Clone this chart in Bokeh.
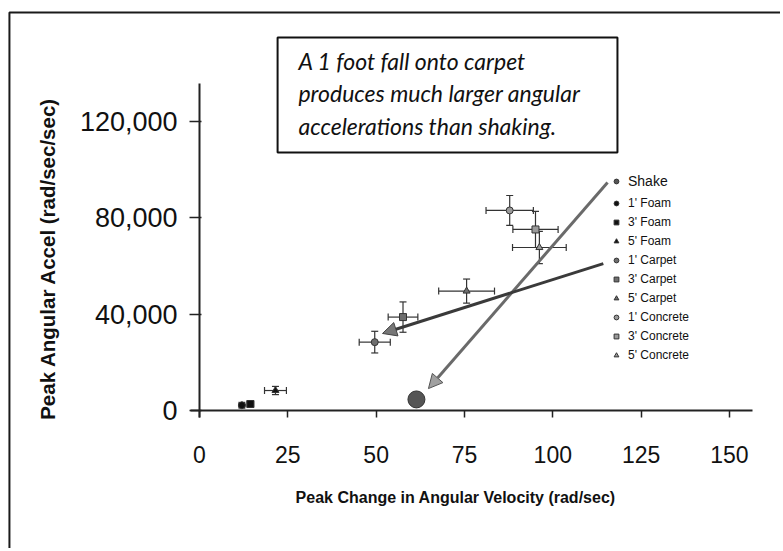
import math
from bokeh.plotting import figure
from bokeh.models import (ColumnDataSource, Whisker, TeeHead, Arrow, NormalHead,
                          BoxAnnotation, Label, Legend, LegendItem, FixedTicker,
                          NumeralTickFormatter, Range1d)
from bokeh.embed import file_html
from bokeh.resources import INLINE

# ---------------- data ----------------
series = ["Shake", "1' Foam", "3' Foam", "5' Foam", "1' Carpet", "3' Carpet",
          "5' Carpet", "1' Concrete", "3' Concrete", "5' Concrete"]
vel = [61.4, 12.0, 14.4, 21.5, 49.6, 57.6, 75.6, 87.8, 95.1, 96.2]          # rad/sec
vel_err = [0, 0.8, 0.9, 3.1, 4.4, 4.2, 7.9, 6.7, 6.4, 7.6]
acc = [4600, 2200, 2700, 8300, 28400, 38800, 49600, 83100, 75200, 67700]     # rad/sec/sec
acc_err = [0, 300, 400, 1700, 4500, 6300, 5000, 6200, 7500, 6700]
markers = ["circle", "circle", "square", "triangle", "circle", "square",
           "triangle", "circle", "square", "triangle"]
colors = ["#555555", "#111111", "#111111", "#111111", "#6e6e6e", "#6e6e6e",
          "#6e6e6e", "#9a9a9a", "#9a9a9a", "#9a9a9a"]

x_ticks = [0, 25, 50, 75, 100, 125, 150]
y_ticks = [0, 40000, 80000, 120000]

note_lines = ["A 1 foot fall onto carpet",
              "produces much larger angular",
              "accelerations than shaking."]

# annotation geometry (data coords)
note_box = dict(left=22.1, right=118.3, top=154900, bottom=107200)
note_x = 28.0
note_y = [145350, 131700, 118000]
arrow_shake = (115.5, 94700, 64.8, 9100)
arrow_carpet = (114.3, 61000, 51.8, 32000)
page_border = dict(left=-53.8, top=165300, right=1000, bottom=-1000000)
x_title_pos = (72.5, -36100)
y_title_pos = (-43.0, 63100)

# ---------------- figure ----------------
W, H = 780, 548
p = figure(width=W, height=H, output_backend="svg", toolbar_location=None,
           x_range=Range1d(-56.33, 164.45), y_range=Range1d(-57320, 170300),
           min_border=0, min_border_left=0, min_border_right=0,
           min_border_top=0, min_border_bottom=0)
p.outline_line_color = None
p.grid.visible = False
p.background_fill_color = "white"
p.border_fill_color = "white"

for ax in (p.xaxis[0], p.yaxis[0]):
    ax.fixed_location = 0
    ax.axis_line_color = "#222222"
    ax.axis_line_width = 2
    ax.major_tick_line_color = "#222222"
    ax.major_tick_line_width = 1.5
    ax.minor_tick_line_color = None
    ax.major_label_text_font = "Liberation Sans"
    ax.major_label_text_color = "#111111"

p.xaxis.ticker = FixedTicker(ticks=x_ticks)
p.yaxis.ticker = FixedTicker(ticks=y_ticks)
p.yaxis.formatter = NumeralTickFormatter(format="0,0")
p.xaxis.bounds = (-2.5, 156.5)
p.yaxis.bounds = (-3000, 136000)
p.xaxis.major_tick_out = 7
p.xaxis.major_tick_in = 0
p.yaxis.major_tick_out = 10
p.yaxis.major_tick_in = 2
p.xaxis.major_label_text_font_size = "23px"
p.yaxis.major_label_text_font_size = "27px"
p.xaxis.major_label_standoff = 28
p.yaxis.major_label_standoff = 12

# outer page border
p.add_layout(BoxAnnotation(fill_color=None, fill_alpha=0, line_color="#1a1a1a",
                           line_alpha=1, line_width=2, **page_border))

# error bars
idx = [i for i in range(len(series)) if vel_err[i] > 0]
err_src = ColumnDataSource(dict(
    x=[vel[i] for i in idx], y=[acc[i] for i in idx],
    xl=[vel[i] - vel_err[i] for i in idx], xu=[vel[i] + vel_err[i] for i in idx],
    yl=[acc[i] - acc_err[i] for i in idx], yu=[acc[i] + acc_err[i] for i in idx]))
for dim, base, lo, up in (("width", "y", "xl", "xu"), ("height", "x", "yl", "yu")):
    p.add_layout(Whisker(source=err_src, dimension=dim, base=base, lower=lo, upper=up,
                         line_color="#333333", line_width=1.2,
                         upper_head=TeeHead(size=7, line_color="#333333", line_width=1.2),
                         lower_head=TeeHead(size=7, line_color="#333333", line_width=1.2)))

# points
renderers = []
for i, name in enumerate(series):
    src = ColumnDataSource(dict(x=[vel[i]], y=[acc[i]]))
    size = 17 if i == 0 else 7
    r = p.scatter("x", "y", source=src, marker=markers[i], size=size,
                  fill_color=colors[i], line_color="#333333", line_width=1)
    renderers.append(r)

# arrows
xs, ys, xe, ye = arrow_shake
p.add_layout(Arrow(x_start=xs, y_start=ys, x_end=xe, y_end=ye,
                   line_color="#6a6a6a", line_width=3,
                   end=NormalHead(size=14, fill_color="#a0a0a0", line_color="#555555")))
xs, ys, xe, ye = arrow_carpet
p.add_layout(Arrow(x_start=xs, y_start=ys, x_end=xe, y_end=ye,
                   line_color="#3a3a3a", line_width=3,
                   end=NormalHead(size=14, fill_color="#777777", line_color="#444444")))

# note box
p.add_layout(BoxAnnotation(fill_color="white", fill_alpha=1, line_color="#111111",
                           line_alpha=1, line_width=2, **note_box))
for t, yy in zip(note_lines, note_y):
    p.add_layout(Label(x=note_x, y=yy, text=t, text_font="Lato",
                       text_font_style="italic", text_font_size="23px",
                       text_color="#111111", text_baseline="alphabetic"))

# axis titles
p.add_layout(Label(x=x_title_pos[0], y=x_title_pos[1],
                   text="Peak Change in Angular Velocity (rad/sec)",
                   text_font="Liberation Sans", text_font_style="bold",
                   text_font_size="16px", text_align="center", text_baseline="middle",
                   text_color="#111111"))
p.add_layout(Label(x=y_title_pos[0], y=y_title_pos[1],
                   text="Peak Angular Accel (rad/sec/sec)",
                   angle=math.pi / 2, text_font="Liberation Sans", text_font_style="bold",
                   text_font_size="20.5px", text_align="center", text_baseline="middle",
                   text_color="#111111"))

# legends
common = dict(border_line_color=None, background_fill_alpha=0, padding=0, margin=0,
              glyph_width=12, glyph_height=14, label_height=14, label_standoff=6,
              spacing=5, label_text_font="Liberation Sans", label_text_color="#111111")
leg1 = Legend(items=[LegendItem(label=series[0], renderers=[renderers[0]])],
              location=(610, 359), label_text_font_size="14px", **common)
leg2 = Legend(items=[LegendItem(label=series[i], renderers=[renderers[i]])
                     for i in range(1, len(series))],
              location=(610, 186), label_text_font_size="12px", **common)
p.add_layout(leg1, "center")
p.add_layout(leg2, "center")

open("out.html", "w").write(file_html(p, INLINE))
